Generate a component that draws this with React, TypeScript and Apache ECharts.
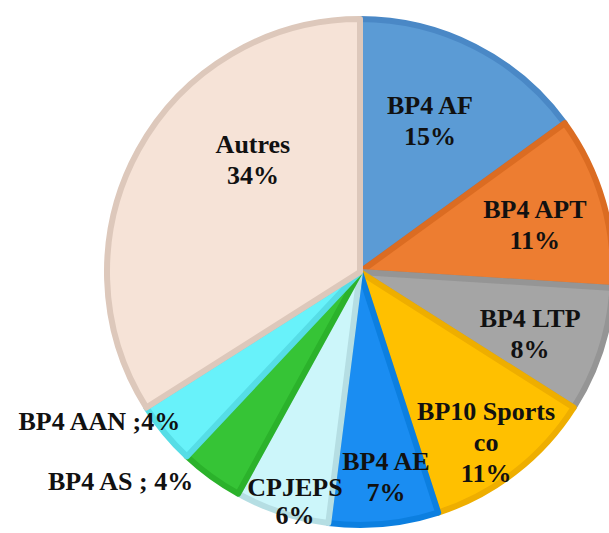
import React, { useEffect, useRef } from "react";
import * as echarts from "echarts";

const categories = ["BP4 AF", "BP4 APT", "BP4 LTP", "BP10 Sports co", "BP4 AE", "CPJEPS", "BP4 AS", "BP4 AAN", "Autres"];
const values = [15, 11, 8, 11, 7, 6, 4, 4, 34];
const labelTexts = [
  "BP4 AF\n15%",
  "BP4 APT\n11%",
  "BP4 LTP\n8%",
  "BP10 Sports\nco\n11%",
  "BP4 AE\n7%",
  "CPJEPS\n6%",
  "BP4 AS ; 4%",
  "BP4 AAN ;4%",
  "Autres\n34%",
];

const fills = ["#5B9BD5", "#ED7D31", "#A5A5A5", "#FFC000", "#1A8DF2", "#CCF6FA", "#36C436", "#68F2FA", "#F6E3D7"];
const borders = ["#4A88C6", "#DB6C22", "#959595", "#EEAE00", "#0C7FE0", "#B5DEE3", "#2BB22B", "#56DDE6", "#DDC8BB"];

// label anchor placement: [angle clockwise from top (deg), distance from centre (px), align, lineHeight]
const labelPlacement: [number, number, string, number][] = [
  [24.9, 166, "center", 31],
  [75.0, 181, "center", 31],
  [110.0, 181, "center", 31],
  [143.5, 212, "center", 31],
  [172.8, 207, "center", 31],
  [195.8, 239, "center", 28],
  [218.5, 268, "right", 31],
  [230.2, 234, "right", 31],
  [316.3, 155, "center", 31],
];

const CX = 360;
const CY = 272;

export default function App() {
  const ref = useRef<HTMLDivElement>(null);
  useEffect(() => {
    if (!ref.current) return;
    const chart = echarts.init(ref.current, null, { renderer: "svg" });
    chart.setOption({
      animation: false,
      backgroundColor: "#ffffff",
      series: [
        {
          type: "pie",
          center: [CX, CY],
          radius: [0, 253],
          startAngle: 90,
          clockwise: true,
          avoidLabelOverlap: false,
          labelLine: { show: false },
          label: {
            show: true,
            position: "inside",
            color: "#111111",
            fontFamily: "'Liberation Serif', 'Times New Roman', serif",
            fontWeight: "bold",
            fontSize: 26,
            lineHeight: 31,
            textBorderWidth: 0,
            align: "center",
            verticalAlign: "middle",
            formatter: (p: any) => labelTexts[p.dataIndex],
          },
          labelLayout: (p: any) => {
            const [a, r, align] = labelPlacement[p.dataIndex];
            const rad = (a * Math.PI) / 180;
            return {
              x: CX + r * Math.sin(rad),
              y: CY - r * Math.cos(rad),
              align,
              verticalAlign: "middle",
            };
          },
          emphasis: { disabled: true },
          data: categories.map((name, i) => ({
            name,
            value: values[i],
            label: { lineHeight: labelPlacement[i][3] },
            itemStyle: { color: fills[i], borderColor: borders[i], borderWidth: 6 },
          })),
        },
      ],
    });
    return () => chart.dispose();
  }, []);
  return (
    <div
      ref={ref}
      style={{ position: "fixed", left: 0, top: 0, width: 609, height: 533, background: "#fff" }}
    />
  );
}
